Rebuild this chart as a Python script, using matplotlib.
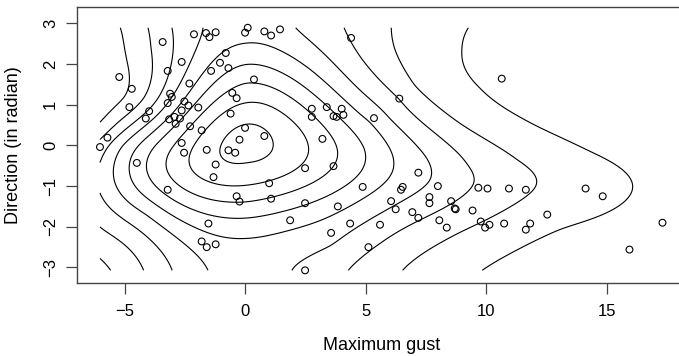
import numpy as np
import matplotlib
matplotlib.use("Agg")
import matplotlib.pyplot as plt

plt.rcParams["font.family"] = ["Liberation Sans", "DejaVu Sans"]

# observed points: maximum gust vs direction (radian)
gust = np.array([
    -5.22, -4.70, -4.80, -5.71, -6.02, -3.42, -3.21, -2.63, -2.12, -1.62,
    -1.48, -1.22, 0.11, 0.00, 0.80, 1.08, 1.45, 4.40, -0.80, -1.04,
    -1.41, -0.69, 0.37, -2.31, -3.11, -3.04, -3.21, -2.52, -2.35, -2.63,
    -1.94, -2.93, -3.15, -2.70, -2.88, -3.98, -4.12, -0.53, -0.35, -0.60,
    -1.80, -2.28, -2.63, 0.00, -0.23, 0.80, 2.77, 2.77, 3.39, 4.01,
    3.67, 3.80, 4.08, 3.21, 10.65, 6.40, 5.35, -4.49, -2.53, -1.59,
    -1.22, -1.31, -0.69, -0.41, -3.21, -0.35, -0.23, 1.00, 1.08, 2.49,
    3.67, 4.88, 2.49, 3.85, 1.87, 4.36, 3.57, -1.52, -1.80, -1.59,
    -1.22, 2.49, 5.12, 7.19, 6.54, 6.47, 8.00, 7.65, 7.65, 6.06,
    6.25, 8.55, 8.74, 8.70, 6.94, 7.19, 8.06, 8.37, 5.60, 9.68,
    10.06, 10.95, 11.65, 9.44, 9.78, 9.96, 10.14, 10.75, 11.65, 11.83,
    12.54, 14.13, 14.84, 15.95, 17.32,
])
direction = np.array([
    1.68, 1.39, 0.94, 0.19, -0.04, 2.54, 1.83, 2.05, 2.73, 2.76,
    2.66, 2.78, 2.89, 2.77, 2.80, 2.70, 2.85, 2.64, 2.27, 2.03,
    1.83, 1.90, 1.62, 1.52, 1.27, 1.19, 1.04, 1.08, 0.98, 0.86,
    0.93, 0.70, 0.64, 0.66, 0.53, 0.84, 0.66, 1.29, 1.16, 0.78,
    0.37, 0.47, 0.06, 0.43, 0.14, 0.23, 0.90, 0.70, 0.94, 0.90,
    0.72, 0.70, 0.75, 0.16, 1.64, 1.15, 0.67, -0.43, -0.18, -0.11,
    -0.47, -0.78, -0.12, -0.18, -1.09, -1.25, -1.38, -0.93, -1.31, -0.56,
    -0.51, -1.02, -1.42, -1.50, -1.84, -1.92, -2.15, -1.92, -2.36, -2.50,
    -2.43, -3.07, -2.50, -0.67, -1.02, -1.09, -1.00, -1.27, -1.42, -1.37,
    -1.57, -1.37, -1.57, -1.55, -1.64, -1.78, -1.84, -2.02, -1.95, -1.04,
    -1.06, -1.06, -1.09, -1.60, -1.87, -2.02, -1.95, -1.92, -2.07, -1.92,
    -1.70, -1.06, -1.25, -2.56, -1.90,
])

# points, grouped by level (9 = innermost)
trace = {
    9: [(-0.91, 0.08), (1.08, 0.08), (0.08, 0.54), (0.08, -0.34)],
    8: [(-2.1, 0.0), (2.61, 0.0), (0.0, 1.03), (0.0, -0.98)],
    7: [(-2.95, 0.0), (3.79, 0.0), (0.0, 1.55), (0.0, -1.40)],
    6: [(-3.75, 0.0), (4.97, 0.0), (0.0, 2.01), (0.0, -1.79), (4.77, 0.04)],
    5: [(-4.45, 0.0), (5.19, 0.61), (6.14, -0.44), (0.0, 2.48), (0.0, -2.28),
        (4.77, 0.74)],
    4: [(-5.15, 0.0), (6.02, 0.61), (7.75, -0.86), (2.07, 2.87), (1.87, -3.07),
        (-1.59, -3.07), (-1.74, 2.87), (4.77, 1.35), (-4.08, -1.68), (3.65, -2.5)],
    3: [(-5.7, 0.0), (7.26, 0.61), (9.2, -0.53), (9.6, -0.94), (4.15, 2.87),
        (4.15, -3.07), (-3.04, -3.07), (-3.07, 2.87), (4.77, 2.17), (6.43, 1.19),
        (-3.61, 1.15), (-5.32, -1.68), (5.6, -2.42)],
    2: [(8.92, 0.53), (11.27, -0.37), (12.1, -1.02), (6.1, 2.87), (6.5, -3.07),
        (-4.22, -3.07), (-4.0, 2.87), (8.92, -2.13), (6.22, 2.33), (6.98, 1.43),
        (-3.95, 2.38), (-4.16, 1.15), (-6.02, -2.05)],
    1: [(11.41, 0.7), (14.3, -0.15), (16.1, -0.94), (9.22, 2.87), (9.82, -3.07),
        (-5.13, 2.87), (-4.85, 1.97), (-4.92, 1.15), (-6.03, 0.45), (-6.02, -2.74),
        (-5.53, -3.07), (13.07, -2.05), (9.06, 2.33), (9.75, 1.43)],
}
trace_gust = np.array([p[0] for lv in trace for p in trace[lv]])
trace_dir = np.array([p[1] for lv in trace for p in trace[lv]])
trace_level = np.array([float(lv) for lv in trace for p in trace[lv]])
# top of the density and the empty areas outside the lowest contour
anchor_gust = np.array([0.08, 17.32, 17.32, 17.32, 17.32, 17.32, 15.5, 14.0, 12.5,
                        -6.03, -6.03, -6.03])
anchor_dir = np.array([0.08, 2.89, -3.07, -1.0, -2.0, 0.5, -2.6, 1.5, 2.6,
                       2.89, 1.8, -3.07])
anchor_level = np.array([9.5, 0.2, 0.3, 0.6, 0.4, 0.35, 0.5, 0.45, 0.6,
                         0.5, 0.7, 0.8])


def basis(x, t):
    u = x / 10
    c, s, c2, s2 = np.cos(t), np.sin(t), np.cos(2 * t), np.sin(2 * t)
    one = np.ones_like(u)
    return np.stack([one, u, u**2, u**3, u**4, c, c*u, c*u**2,
                     s, s*u, s*u**2, c2, c2*u, s2, s2*u], axis=-1)


def tps_kernel(a, b):
    r = np.hypot(a[:, None, 0] - b[None, :, 0], a[:, None, 1] - b[None, :, 1])
    with np.errstate(all="ignore"):
        k = r**2 * np.log(r)
    return np.nan_to_num(k)


px = np.concatenate([trace_gust, anchor_gust])
pd_ = np.concatenate([trace_dir, anchor_dir])
lv = np.concatenate([trace_level, anchor_level])

# smooth log-density base surface (weighted least squares)
w = np.where(lv > 9, 12.0, np.maximum(lv, 1.0))
B = basis(px, pd_) * w[:, None]
ridge = 1e-3 * np.eye(B.shape[1])
ridge[0, 0] = 0
coef = np.linalg.solve(B.T @ B + ridge, B.T @ (np.log(lv) * w))

# thin-plate correction so the surface passes through the traced levels
P = np.column_stack([px * 0.241, pd_ * 0.407])
resid = lv - np.exp(basis(px, pd_) @ coef)
n = len(P)
K = tps_kernel(P, P) + 0.05 * np.eye(n)
Q = np.column_stack([np.ones(n), P])
M = np.block([[K, Q], [Q.T, np.zeros((3, 3))]])
sol = np.linalg.solve(M, np.concatenate([resid, np.zeros(3)]))
tw, ta = sol[:n], sol[n:]

GX, GD = np.meshgrid(np.linspace(gust.min(), gust.max(), 240),
                     np.linspace(direction.min(), direction.max(), 180))
G = np.column_stack([GX.ravel() * 0.241, GD.ravel() * 0.407])
corr = tps_kernel(G, P) @ tw + ta[0] + G @ ta[1:]
density = np.exp(basis(GX, GD) @ coef) + corr.reshape(GX.shape)

fig = plt.figure(figsize=(6.79, 3.56), dpi=100)
ax = fig.add_axes([0.1141, 0.2037, 0.8947, 0.7758])
ax.contour(GX, GD, density, levels=np.arange(1, 10), colors="black", linewidths=0.8)
ax.scatter(gust, direction, s=24, facecolors="none", edgecolors="black", linewidths=0.8, zorder=3)

span = gust.max() - gust.min()
ax.set_xlim(gust.min() - 0.04 * span, gust.max() + 0.04 * span)
ax.set_ylim(-np.pi * 1.08, np.pi * 1.08)
ax.set_xticks([-5, 0, 5, 10, 15])
ax.set_yticks([-3, -2, -1, 0, 1, 2, 3])
ax.tick_params(length=8, width=0.9, color="#444444", labelsize=12, pad=7)
ax.tick_params(axis="y", pad=6)
for lab in ax.get_yticklabels():
    lab.set_rotation(90)
    lab.set_va("center")
for sp in ax.spines.values():
    sp.set_color("#444444")
    sp.set_linewidth(1.0)
ax.set_xlabel("Maximum gust", fontsize=13)
ax.set_ylabel("Direction (in radian)", fontsize=13)
ax.xaxis.set_label_coords(0.5, -0.223)
ax.xaxis.label.set_va("center")
ax.yaxis.set_label_coords(-0.1045, 0.5)
ax.yaxis.label.set_va("center")
fig.savefig("out.png", dpi=100)
